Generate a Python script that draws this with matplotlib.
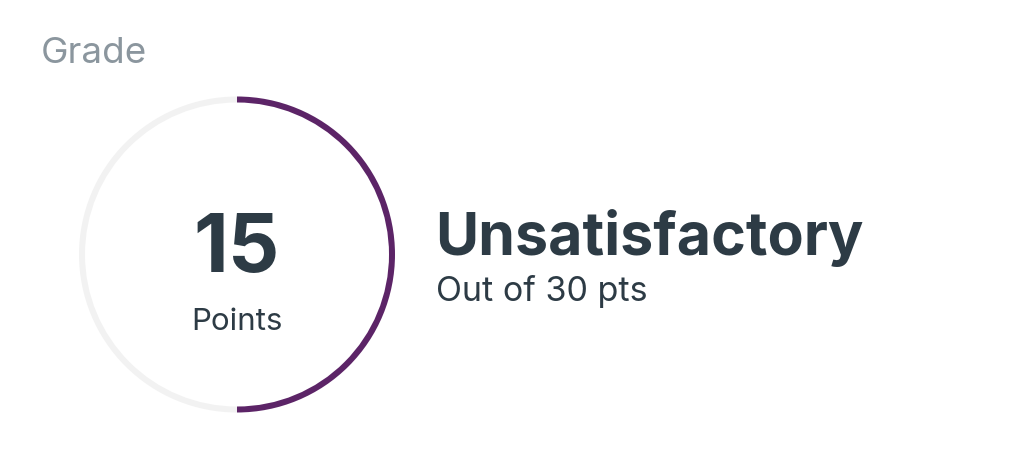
import matplotlib.pyplot as plt

# grade data
score = 15
total = 30
grade_label = "Unsatisfactory"
title = "Grade"
unit_label = "Points"

W, H = 1024, 467
DARK = "#2d3b45"
GRAY = "#8b969e"
PURPLE = "#5c2467"
TRACK = "#f2f2f2"

plt.rcParams['font.family'] = ['Inter', 'DejaVu Sans']

fig = plt.figure(figsize=(W / 100, H / 100), dpi=100)
ax = fig.add_axes([0, 0, 1, 1])
ax.set_xlim(0, W)
ax.set_ylim(0, H)
ax.set_aspect('equal')
ax.axis('off')

# ring gauge, pixel y flipped (y up)
cx, cy = 237, H - 254.5
ax.pie([score, total - score], colors=[PURPLE, TRACK], startangle=90,
       counterclock=False, center=(cx, cy), radius=158,
       wedgeprops=dict(width=6, linewidth=0))
ax.set_xlim(0, W)
ax.set_ylim(0, H)

ax.text(41, H - 63, title, fontsize=26.5, color=GRAY, ha='left', va='baseline')
ax.text(cx, H - 272, str(score), fontsize=58, fontweight='bold', color=DARK,
        ha='center', va='baseline')
ax.text(cx, H - 330, unit_label, fontsize=22.5, color=DARK, ha='center', va='baseline')
ax.text(435, H - 255, grade_label, fontsize=42.5, fontweight='bold', color=DARK,
        ha='left', va='baseline')
ax.text(436, H - 301.5, f"Out of {total} pts", fontsize=24.5, color=DARK,
        ha='left', va='baseline')

fig.savefig("out.png", dpi=100, facecolor='white')
